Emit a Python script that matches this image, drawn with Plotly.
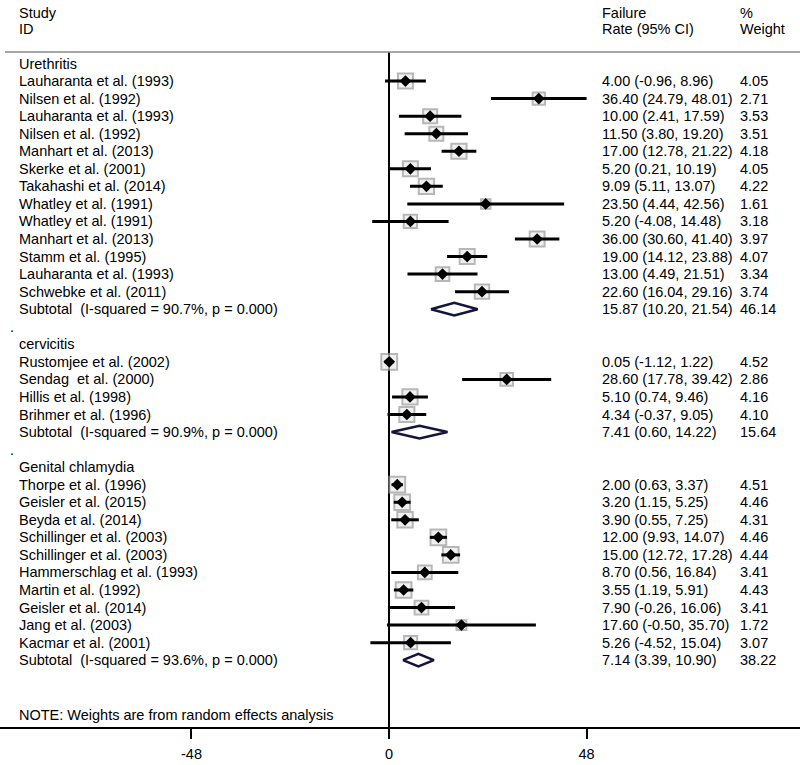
import plotly.graph_objects as go
import math

group_names = ["Urethritis", "cervicitis", "Genital chlamydia"]

names_u = ["Lauharanta et al. (1993)", "Nilsen et al. (1992)", "Lauharanta et al. (1993)",
           "Nilsen et al. (1992)", "Manhart et al. (2013)", "Skerke et al. (2001)",
           "Takahashi et al. (2014)", "Whatley et al. (1991)", "Whatley et al. (1991)",
           "Manhart et al. (2013)", "Stamm et al. (1995)", "Lauharanta et al. (1993)",
           "Schwebke et al. (2011)"]
est_u = [4.00, 36.40, 10.00, 11.50, 17.00, 5.20, 9.09, 23.50, 5.20, 36.00, 19.00, 13.00, 22.60]
lo_u = [-0.96, 24.79, 2.41, 3.80, 12.78, 0.21, 5.11, 4.44, -4.08, 30.60, 14.12, 4.49, 16.04]
hi_u = [8.96, 48.01, 17.59, 19.20, 21.22, 10.19, 13.07, 42.56, 14.48, 41.40, 23.88, 21.51, 29.16]
w_u = [4.05, 2.71, 3.53, 3.51, 4.18, 4.05, 4.22, 1.61, 3.18, 3.97, 4.07, 3.34, 3.74]

names_c = ["Rustomjee et al. (2002)", "Sendag  et al. (2000)", "Hillis et al. (1998)",
           "Brihmer et al. (1996)"]
est_c = [0.05, 28.60, 5.10, 4.34]
lo_c = [-1.12, 17.78, 0.74, -0.37]
hi_c = [1.22, 39.42, 9.46, 9.05]
w_c = [4.52, 2.86, 4.16, 4.10]

names_g = ["Thorpe et al. (1996)", "Geisler et al. (2015)", "Beyda et al. (2014)",
           "Schillinger et al. (2003)", "Schillinger et al. (2003)", "Hammerschlag et al. (1993)",
           "Martin et al. (1992)", "Geisler et al. (2014)", "Jang et al. (2003)",
           "Kacmar et al. (2001)"]
est_g = [2.00, 3.20, 3.90, 12.00, 15.00, 8.70, 3.55, 7.90, 17.60, 5.26]
lo_g = [0.63, 1.15, 0.55, 9.93, 12.72, 0.56, 1.19, -0.26, -0.50, -4.52]
hi_g = [3.37, 5.25, 7.25, 14.07, 17.28, 16.84, 5.91, 16.06, 35.70, 15.04]
w_g = [4.51, 4.46, 4.31, 4.46, 4.44, 3.41, 4.43, 3.41, 1.72, 3.07]

sub_isq = ["90.7%", "90.9%", "93.6%"]
sub_p = ["0.000", "0.000", "0.000"]
sub_est = [15.87, 7.41, 7.14]
sub_lo = [10.20, 0.60, 3.39]
sub_hi = [21.54, 14.22, 10.90]
sub_w = [46.14, 15.64, 38.22]

x_ticks = [-48, 0, 48]

groups = [
    (names_u, est_u, lo_u, hi_u, w_u),
    (names_c, est_c, lo_c, hi_c, w_c),
    (names_g, est_g, lo_g, hi_g, w_g),
]

FONT = "Liberation Sans, Arial, sans-serif"
FS = 14.5
X_NAME = 17 / 800
X_RATE = 600 / 800
X_W = 738 / 800

fig = go.Figure()
annotations = []


def label(x, y, text):
    annotations.append(dict(x=x, y=y, xref="paper", yref="y", text=text, showarrow=False,
                            xanchor="left", yanchor="middle",
                            font=dict(family=FONT, size=FS, color="black")))


ci_x, ci_y = [], []
pt_x, pt_y = [], []
box_x, box_y, box_s = [], [], []
diamonds = []

row = 0
for gi, (nm, es, lo, hi, w) in enumerate(groups):
    if gi > 0:
        label(8 / 800, row, ".")
        row += 1
    label(X_NAME, row, group_names[gi])
    row += 1
    for i in range(len(nm)):
        label(X_NAME, row, nm[i])
        label(X_RATE, row, f"{es[i]:.2f} ({lo[i]:.2f}, {hi[i]:.2f})")
        label(X_W, row, f"{w[i]:.2f}")
        ci_x += [lo[i], hi[i], None]
        ci_y += [row, row, None]
        pt_x.append(es[i])
        pt_y.append(row)
        box_x.append(es[i])
        box_y.append(row)
        box_s.append(7.45 * math.sqrt(w[i]))
        row += 1
    label(X_NAME, row, f"Subtotal  (I-squared = {sub_isq[gi]}, p = {sub_p[gi]})")
    label(X_RATE, row, f"{sub_est[gi]:.2f} ({sub_lo[gi]:.2f}, {sub_hi[gi]:.2f})")
    label(X_W, row, f"{sub_w[gi]:.2f}")
    diamonds.append((sub_lo[gi], sub_est[gi], sub_hi[gi], row))
    row += 1

note_row = row + 2.1
label(X_NAME, note_row, "NOTE: Weights are from random effects analysis")

# header
for x, y, t in [(X_NAME, -2.88, "Study"), (X_NAME, -1.97, "ID"),
                (X_RATE, -2.88, "Failure"), (X_RATE, -1.97, "Rate (95% CI)"),
                (X_W, -2.88, "%"), (X_W, -1.97, "Weight")]:
    label(x, y, t)

# weight boxes
fig.add_trace(go.Scatter(x=box_x, y=box_y, mode="markers", hoverinfo="skip",
                         marker=dict(symbol="square", size=box_s, color="rgba(235,235,235,1)",
                                     line=dict(color="#9a9a9a", width=2))))
# CI lines
fig.add_trace(go.Scatter(x=ci_x, y=ci_y, mode="lines", hoverinfo="skip",
                         line=dict(color="black", width=3)))
# point estimates
fig.add_trace(go.Scatter(x=pt_x, y=pt_y, mode="markers",
                         marker=dict(symbol="diamond", size=9, color="black")))
# subtotal diamonds
h = 0.36
for lo, es, hi, r in diamonds:
    fig.add_trace(go.Scatter(x=[lo, es, hi, es, lo], y=[r, r - h, r, r + h, r],
                             mode="lines", fill="toself", fillcolor="white",
                             line=dict(color="#14143c", width=2.5), hoverinfo="skip"))

y_top_line = -0.655
y_bottom = 37.806
y_topmost = -3.618

shapes = [
    dict(type="line", xref="paper", yref="y", x0=5 / 800, x1=1, y0=y_top_line, y1=y_top_line,
         line=dict(color="#8a8a8a", width=1.5)),
    dict(type="line", xref="x", yref="y", x0=0, x1=0, y0=y_top_line, y1=y_bottom,
         line=dict(color="black", width=2), layer="below"),
]

fig.update_layout(
    width=800, height=765,
    margin=dict(l=0, r=0, t=0, b=38),
    paper_bgcolor="white", plot_bgcolor="white",
    showlegend=False,
    annotations=annotations,
    shapes=shapes,
    xaxis=dict(range=[-389 / 4.115, 411 / 4.115], tickvals=x_ticks,
               ticktext=[str(v) for v in x_ticks], showgrid=False, zeroline=False,
               showline=True, linecolor="black", linewidth=2, ticks="outside",
               ticklen=10, tickwidth=2, tickcolor="black", ticklabelstandoff=3,
               tickfont=dict(family=FONT, size=14.5, color="black"), fixedrange=True),
    yaxis=dict(range=[y_bottom, y_topmost], showgrid=False, zeroline=False,
               showticklabels=False, showline=False, fixedrange=True),
)

fig.write_html("out.html", config={"displayModeBar": False},
               post_script="document.body.style.margin='0';")
